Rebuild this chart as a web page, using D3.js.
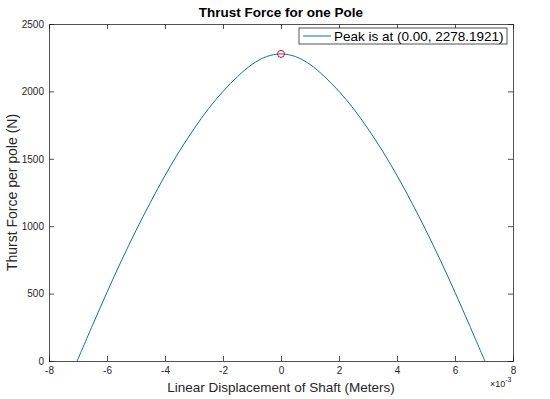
<!DOCTYPE html>
<html><head><meta charset="utf-8">
<script src="https://cdn.jsdelivr.net/npm/d3@7"></script>
<style>body{margin:0;background:#fff;} svg{display:block;} text{font-family:"Liberation Sans",Arial,Helvetica,sans-serif;}</style>
</head><body>
<svg id="c" width="550" height="399"></svg>
<script>
// displacement (x 1e-3 m)
const xVals = [-7.03,-6.5,-6,-5.5,-5,-4.5,-4,-3.5,-3,-2.5,-2,-1.5,-1,-0.5,0,0.5,1,1.5,2,2.5,3,3.5,4,4.5,5,5.5,6,6.5,7.03];
// thrust force (N)
const fVals = [0,265,510,745,968,1178,1376,1558,1722,1872,2000,2110,2200,2258,2278.1921,2258,2200,2110,2000,1872,1722,1558,1376,1178,968,745,510,265,0];
const xTicks = [-8,-6,-4,-2,0,2,4,6,8];
const yTicks = [0,500,1000,1500,2000,2500];
const peak = {x:0, y:2278.1921};
const titleText = "Thrust Force for one Pole";
const xLabel = "Linear Displacement of Shaft (Meters)";
const yLabel = "Thurst Force per pole (N)";
const legendText = "Peak is at (0.00, 2278.1921)";

const svg = d3.select("#c");
const L=49,R=513,T=24,B=361;
const x = d3.scaleLinear().domain([-8,8]).range([L,R]);
const y = d3.scaleLinear().domain([0,2500]).range([B,T]);
const axCol="#262626";

svg.append("rect").attr("x",0).attr("y",0).attr("width",550).attr("height",399).attr("fill","#fff");

// line
const data = xVals.map((v,i)=>({x:v,y:fVals[i]}));
svg.append("path").datum(data)
  .attr("d", d3.line().x(d=>x(d.x)).y(d=>y(d.y)).curve(d3.curveCatmullRom))
  .attr("fill","none").attr("stroke","#0072BD").attr("stroke-width",1);

svg.append("circle").attr("cx",x(peak.x)).attr("cy",y(peak.y)).attr("r",3.5)
  .attr("fill","none").attr("stroke","#FF0000").attr("stroke-width",1);

// axes
const tl=5;
const fmt = d=>String(d);
const gx = svg.append("g").attr("transform",`translate(0,${B})`)
  .call(d3.axisBottom(x).tickValues(xTicks).tickSize(-tl).tickPadding(6).tickFormat(fmt));
const gxt = svg.append("g").attr("transform",`translate(0,${T})`)
  .call(d3.axisTop(x).tickValues(xTicks).tickSize(-tl).tickFormat(""));
const gy = svg.append("g").attr("transform",`translate(${L},0)`)
  .call(d3.axisLeft(y).tickValues(yTicks).tickSize(-tl).tickPadding(5).tickFormat(fmt));
const gyr = svg.append("g").attr("transform",`translate(${R},0)`)
  .call(d3.axisRight(y).tickValues(yTicks).tickSize(-tl).tickFormat(""));
[gx,gxt,gy,gyr].forEach(g=>{
  g.selectAll("path").attr("stroke",axCol).attr("stroke-width",0.8);
  g.selectAll("line").attr("stroke",axCol).attr("stroke-width",0.8);
  g.selectAll("text").attr("fill",axCol).style("font-size","10px").style("font-family","'Liberation Sans',Arial,sans-serif");
});

// title
svg.append("text").attr("x",(L+R)/2).attr("y",17).attr("text-anchor","middle")
  .style("font-size","13.5px").style("font-weight","bold").attr("fill","#000").text(titleText);
// x label
svg.append("text").attr("x",(L+R)/2).attr("y",392).attr("text-anchor","middle")
  .style("font-size","13.5px").attr("fill",axCol).text(xLabel);
// y label
svg.append("text").attr("transform",`translate(17,${(T+B)/2}) rotate(-90)`).attr("text-anchor","middle")
  .style("font-size","14px").attr("fill",axCol).text(yLabel);
// exponent
const ex = svg.append("text").attr("x",490).attr("y",387).style("font-size","9px").attr("fill",axCol);
ex.append("tspan").text("\u00d710");
ex.append("tspan").attr("dy",-5).style("font-size","7px").text("-3");

// legend
const lg = svg.append("g");
lg.append("rect").attr("x",299).attr("y",28).attr("width",208).attr("height",16)
  .attr("fill","#fff").attr("stroke",axCol).attr("stroke-width",0.8);
lg.append("line").attr("x1",303).attr("x2",331).attr("y1",36).attr("y2",36)
  .attr("stroke","#0072BD").attr("stroke-width",1);
lg.append("text").attr("x",334).attr("y",41).style("font-size","13.5px").attr("fill","#000").text(legendText);
</script>
</body></html>
